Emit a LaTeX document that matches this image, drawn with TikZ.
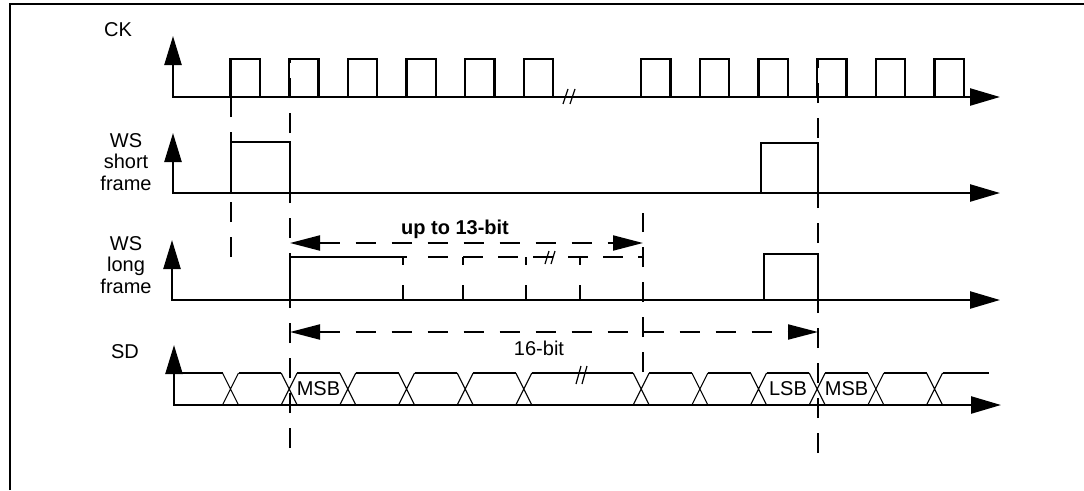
\documentclass[tikz,border=0pt]{standalone}
\usepackage{fontspec}
\setmainfont{Liberation Sans}
\usepackage{tikz}
\usetikzlibrary{arrows.meta, positioning}

\tikzset{
	sigaxis/.style={line width=2.4pt, {Triangle[length=29pt,width=17pt]}-{Triangle[length=30pt,width=17pt]}},
	sig/.style={line width=2.3pt},
	bus/.style={line width=1.1pt},
	guide/.style={line width=2pt, dash pattern=on 20pt off 15pt},
	span/.style={line width=2pt, dash pattern=on 20pt off 16pt, {Triangle[length=30pt,width=15pt]}-{Triangle[length=30pt,width=15pt]}},
	brk/.style={line width=1.2pt},
	lbl/.style={font=\fontsize{20}{21.5}\selectfont, align=center, inner sep=0pt},
}

\begin{document}
\begin{tikzpicture}[x=1pt, y=-1pt]
			\useasboundingbox (0,0) rectangle (1084,490);
			% Marco
			\draw[line width=2pt] (9.5,490) -- (9.5,3.5) -- (1084,3.5);

			% Etiquetas
			\node[lbl] (ck) at (118,30) {CK};
			\node[lbl, anchor=north] (wsshort) at (126,133) {WS\\short\\frame};
			\node[lbl, anchor=north] (wslong) at (126,236) {WS\\long\\frame};
			\node[lbl] (sd) at (125,352) {SD};

			% CK
			\draw[sigaxis] (173,36) -- (173,97) -- (1000,97);
			\foreach \k in {0,1,2,3,4,5,7,8,9,10,11,12}
				\draw[sig] ({230.5+58.67*\k},97) |- ({259.8+58.67*\k},59) -- ({259.8+58.67*\k},97);
			\draw[brk] (563,104) -- (568,89) (570,104) -- (575,89);

			% WS short frame
			\draw[sigaxis] (173,133) -- (173,193) -- (1000,193);
			\draw[line width=1.3pt] (231,193) |- (290,142) -- (290,193);
			\draw[sig] (231,193) -- (231,142);
			\draw[sig] (761,193) |- (818,143) -- (818,193);

			% WS long frame
			\draw[sigaxis] (172,240) -- (172,300) -- (1000,300);
			\draw[sig] (290,300) |- (407,257);
			\draw[guide] (428,257) -- (643,257);
			\foreach \x in {403,463,526,580}
				\draw[sig] (\x,257) -- ++(0,8) (\x,285) -- (\x,300);
			\draw[brk] (545,264) -- (549,251) (551,264) -- (555,251);
			\draw[sig] (764,300) |- (818,254) -- (818,300);

			% SD
			\draw[sigaxis] (174,345) -- (174,405) -- (1001,405);
			\foreach \k in {0,1,2,3,4,5,7,8,9,10,11,12} {
				\pgfmathsetmacro\xt{230.5+58.67*\k}
				\draw[bus] (\xt-8,373) -- (\xt+8,405) (\xt-8,405) -- (\xt+8,373);
			}
			\draw[bus] (174,373) -- (222.5,373);
			\foreach \k in {0,1,2,3,4,7,8,9,10,11}
				\draw[bus] ({238.5+58.67*\k},373) -- ({281.2+58.67*\k},373);
			\draw[bus] (531.9,373) -- (633.2,373);
			\draw[bus] (942.5,373) -- (989,373);
			\draw[brk] (576,384) -- (581,366) (582,384) -- (587,366);
			\node[lbl] (msb) at (318.5,389) {MSB};
			\node[lbl] (lsb) at (788,389) {LSB};
			\node[lbl] (msbnext) at (846.5,389) {MSB};

			% Lineas guia (de abajo hacia arriba)
			\draw[guide] (231,257) -- (231,59);
			\draw[guide] (290,448) -- (290,59);
			\draw[guide] (643,372) -- (643,213);
			\draw[guide] (818,453) -- (818,59);

			% Flechas de ancho
			\coordinate (b13l) at (290,243);
			\coordinate (b13r) at (643,243);
			\draw[span] (b13l) -- (b13r);
			\node[font=\bfseries\fontsize{20}{22}\selectfont, inner sep=0pt, anchor=base] (upto) at (455,234) {up to 13-bit};
			\coordinate (b16l) at (290,332);
			\coordinate (b16r) at (818,332);
			\draw[span] (b16l) -- (b16r);
			\node[lbl, anchor=base] (bits16) at (539,355) {16-bit};
		\end{tikzpicture}
\end{document}
